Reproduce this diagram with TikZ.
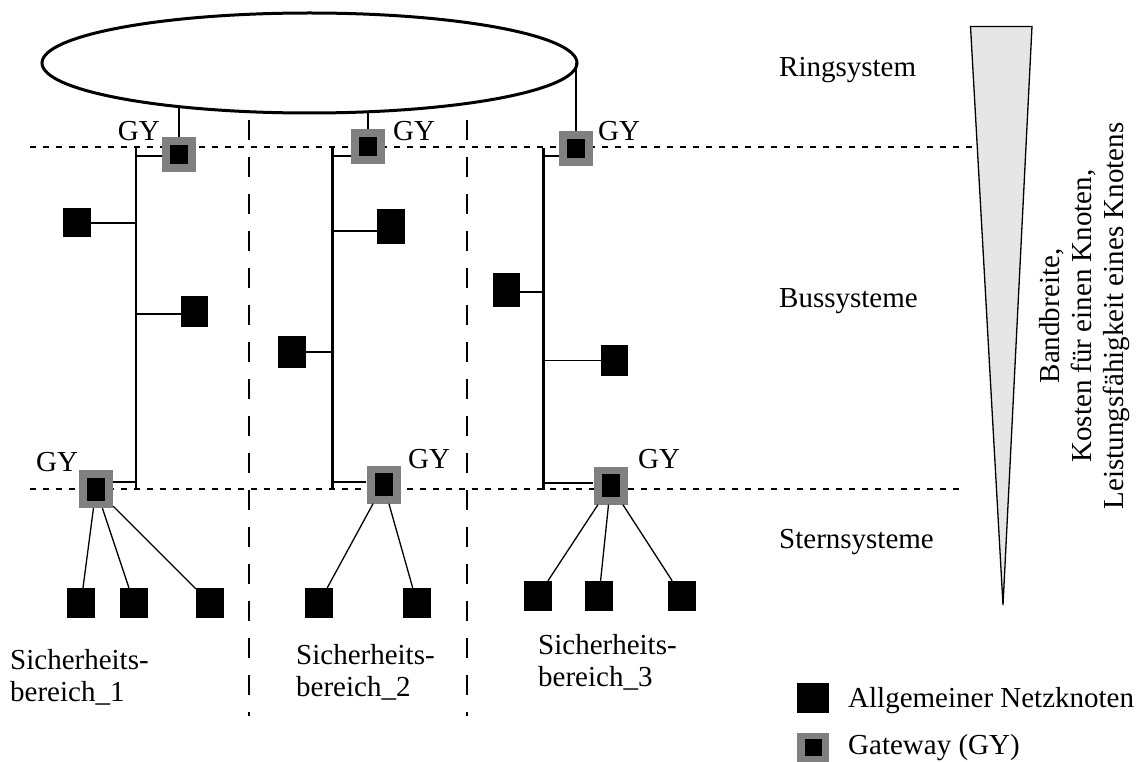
\documentclass[tikz,border=0pt]{standalone}
\usepackage{fontspec}
\setmainfont{Liberation Serif}
\usetikzlibrary{shapes.geometric}
\definecolor{gwgray}{RGB}{128,128,128}
\definecolor{trifill}{RGB}{230,230,230}
\begin{document}
\begin{tikzpicture}[x=1pt,y=-1pt,
  lbl/.style={font=\fontsize{29}{32}\selectfont, inner sep=0pt},
  nk/.style={fill=black, inner sep=0pt, minimum width=28pt, minimum height=30pt},
  gwtop/.style={fill=gwgray, inner sep=0pt, minimum width=34pt, minimum height=35pt,
    path picture={\fill[black] ([xshift=-9pt,yshift=-9.5pt]path picture bounding box.center)
      rectangle ([xshift=9pt,yshift=9.5pt]path picture bounding box.center);}},
  gwbot/.style={fill=gwgray, inner sep=0pt, minimum width=34pt, minimum height=38pt,
    path picture={\fill[black] ([xshift=-9pt,yshift=-11.5pt]path picture bounding box.center)
      rectangle ([xshift=9pt,yshift=11.5pt]path picture bounding box.center);}},
  gwkey/.style={fill=gwgray, inner sep=0pt, minimum width=32pt, minimum height=29pt,
    path picture={\fill[black] ([xshift=-8.5pt,yshift=-8.5pt]path picture bounding box.center)
      rectangle ([xshift=8.5pt,yshift=8.5pt]path picture bounding box.center);}},
  bus/.style={line width=2.7pt},
  link/.style={line width=1.3pt},
  zone/.style={line width=1.2pt, dash pattern=on 6pt off 7pt},
  sector/.style={line width=1.2pt, dash pattern=on 20pt off 17pt},
]
\useasboundingbox (0,0) rectangle (1141,762);

% level separators and security sectors
\draw[zone] (30,147) -- (975,147);
\draw[zone] (30,489) -- (960,489);
\draw[sector] (249,120) -- (249,716);
\draw[sector] (467,120) -- (467,716);

% ring
\node[ellipse, draw, line width=3pt, minimum width=535pt, minimum height=100pt, inner sep=0pt] (ring) at (309.5,63) {};

% gateways
\node[gwtop] (g1) at (179,154.5) {};
\node[gwtop] (g2) at (368,146.5) {};
\node[gwtop] (g3) at (576,149) {};
\node[gwbot] (g4) at (96,489) {};
\node[gwbot] (g5) at (383.5,484.5) {};
\node[gwbot] (g6) at (610.5,485.5) {};

% bus nodes
\node[nk, minimum height=29pt] (n11) at (77,222.5) {};
\node[nk, minimum width=27pt, minimum height=31pt] (n12) at (194.5,311.5) {};
\node[nk, minimum height=35pt] (n21) at (391,226.5) {};
\node[nk, minimum height=32pt] (n22) at (292,352) {};
\node[nk, minimum width=27pt, minimum height=34pt] (n31) at (506.5,290) {};
\node[nk, minimum width=27pt, minimum height=31pt] (n32) at (614.5,360.5) {};

% star nodes
\node[nk] (s11) at (81,603) {};
\node[nk] (s12) at (134,603) {};
\node[nk] (s13) at (210,603) {};
\node[nk] (s21) at (319,603) {};
\node[nk] (s22) at (417,603) {};
\node[nk] (s31) at (538,596) {};
\node[nk] (s32) at (599,596) {};
\node[nk] (s33) at (682,596) {};

% bus lines
\coordinate (b1t) at (136,148);  \coordinate (b1b) at (136,490);
\coordinate (b2t) at (332.5,147); \coordinate (b2b) at (332.5,490);
\coordinate (b3t) at (543.5,148); \coordinate (b3b) at (543.5,490);
\draw[bus] (b1t) -- (b1b);
\draw[bus] (b2t) -- (b2b);
\draw[bus] (b3t) -- (b3b);

% ring attachments
\draw[link] (g1.north) -- (g1.north |- ring.198.5);
\draw[link] (g2.north) -- (g2.north |- ring.320.2);
\draw[link] (g3.north) -- (g3.north |- ring.east);

% gateway to bus
\draw[link] ([yshift=-1.5pt]g1.west) -- ([yshift=-1.5pt]g1.west -| b1t);
\draw[link] ([yshift=-9.5pt]g2.west) -- ([yshift=-9.5pt]g2.west -| b2t);
\draw[link] ([yshift=-7pt]g3.west) -- ([yshift=-7pt]g3.west -| b3t);
\draw[link] ([yshift=7pt]g4.east) -- ([yshift=7pt]g4.east -| b1t);
\draw[link] ([yshift=2.5pt]g5.west) -- ([yshift=2.5pt]g5.west -| b2t);
\draw[link] ([yshift=2.5pt]g6.west) -- ([yshift=2.5pt]g6.west -| b3t);

% bus nodes to bus
\draw[link] ([yshift=-0.5pt]n11.east) -- ([yshift=-0.5pt]n11.east -| b1t);
\draw[link] ([yshift=-2.5pt]n12.west) -- ([yshift=-2.5pt]n12.west -| b1t);
\draw[link] ([yshift=-4.5pt]n21.west) -- ([yshift=-4.5pt]n21.west -| b2t);
\draw[link] (n22.east) -- (n22.east -| b2t);
\draw[link] ([yshift=-2pt]n31.east) -- ([yshift=-2pt]n31.east -| b3t);
\draw[link] (n32.west) -- (n32.west -| b3t);

% star links
\draw[link] (g4) -- (s11);
\draw[link] (g4) -- (s12);
\draw[link] (g4) -- (s13);
\draw[link] (g5) -- (s21);
\draw[link] (g5) -- (s22);
\draw[link] (g6) -- (s31);
\draw[link] (g6) -- (s32);
\draw[link] (g6) -- (s33);

% gateway labels
\node[lbl, anchor=base east] (l1) at (160,141) {GY};
\node[lbl, anchor=base west] (l2) at (393,141) {GY};
\node[lbl, anchor=base west] (l3) at (598,141) {GY};
\node[lbl, anchor=base west] (l4) at (36,471) {GY};
\node[lbl, anchor=base west] (l5) at (408,468) {GY};
\node[lbl, anchor=base west] (l6) at (638,468) {GY};

% level names
\node[lbl, anchor=base west] (t1) at (779,77) {Ringsystem};
\node[lbl, anchor=base west] (t2) at (779,308) {Bussysteme};
\node[lbl, anchor=base west] (t3) at (779,548) {Sternsysteme};

% sector names
\node[lbl, anchor=base west] (a1) at (10,669) {Sicherheits-};
\node[lbl, anchor=base west] (a2) at (10,701) {bereich\_1};
\node[lbl, anchor=base west] (c1) at (296,664) {Sicherheits-};
\node[lbl, anchor=base west] (c2) at (296,696) {bereich\_2};
\node[lbl, anchor=base west] (d1) at (538,654) {Sicherheits-};
\node[lbl, anchor=base west] (d2) at (538,686) {bereich\_3};

% wedge with rotated caption
\filldraw[fill=trifill, line width=1.3pt] (970.5,26.5) -- (1032,26.5) -- (1003,605) -- cycle;
\node[lbl, anchor=base, rotate=90] (r1) at (1059,316) {Bandbreite,};
\node[lbl, anchor=base, rotate=90] (r2) at (1091,316) {Kosten für einen Knoten,};
\node[lbl, anchor=base, rotate=90] (r3) at (1123,316) {Leistungsfähigkeit eines Knotens};

% legend
\node[nk, minimum width=32pt, minimum height=30pt] (k1) at (813,698) {};
\node[gwkey] (k2) at (813,747.5) {};
\node[lbl, anchor=base west] (k1t) at (848,707) {Allgemeiner Netzknoten};
\node[lbl, anchor=base west] (k2t) at (848,754) {Gateway (GY)};
\end{tikzpicture}
\end{document}
